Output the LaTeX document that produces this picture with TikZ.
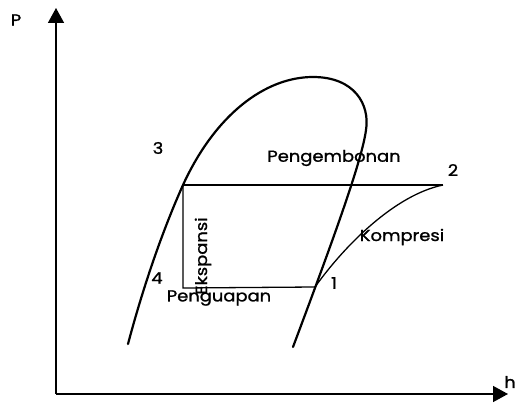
\documentclass[tikz,border=0pt]{standalone}
\usepackage{fontspec}
\setmainfont{Poppins}[FakeBold=1.2,FakeStretch=1.12]
\usetikzlibrary{arrows.meta}
\begin{document}
\begin{tikzpicture}[x=1pt,y=-1pt,
  axis/.style={line width=1.5pt,-{Triangle[length=15pt,width=16pt]}},
  dome/.style={line width=2.2pt,line cap=round},
  cycle/.style={line width=1.3pt},
  lbl/.style={font=\fontsize{16}{16}\selectfont, inner sep=0pt}]
\useasboundingbox (0,0) rectangle (517,403);
\coordinate (O) at (56,394);
\coordinate (ytip) at (56,8);
\coordinate (xtip) at (508,394);
\draw[axis] (O) -- (ytip);
\draw[axis] (O) -- (xtip);
\node[lbl] (P) at (16,20) {P};
\node[lbl] (h) at (510,382) {h};
\coordinate (p1) at (315,287);
\coordinate (p2) at (443,185);
\coordinate (p3) at (183,185);
\coordinate (p4) at (183,288);
\draw[dome] (128,344) .. controls (145,280) and (165,225) .. (p3)
  .. controls (215,115) and (265,77) .. (313,77)
  .. controls (355,77) and (370,105) .. (366,130)
  .. controls (362,160) and (335,235) .. (293,347);
\draw[cycle] (p3) -- (p2);
\draw[cycle] (p3) -- (p4) -- (p1);
\draw[cycle] (p1) .. controls (345,245) and (395,195) .. (p2);
\node[lbl] (n3) at (158,148) {3};
\node[lbl] (n2) at (453,170) {2};
\node[lbl] (n1) at (334,283) {1};
\node[lbl] (n4) at (157,278) {4};
\node[lbl] (peng) at (334,158) {Pengembonan};
\node[lbl] (komp) at (402,237) {Kompresi};
\node[lbl] (pengu) at (219,298) {Penguapan};
\node[lbl,rotate=90] (eks) at (203,256) {Ekspansi};
\end{tikzpicture}
\end{document}
